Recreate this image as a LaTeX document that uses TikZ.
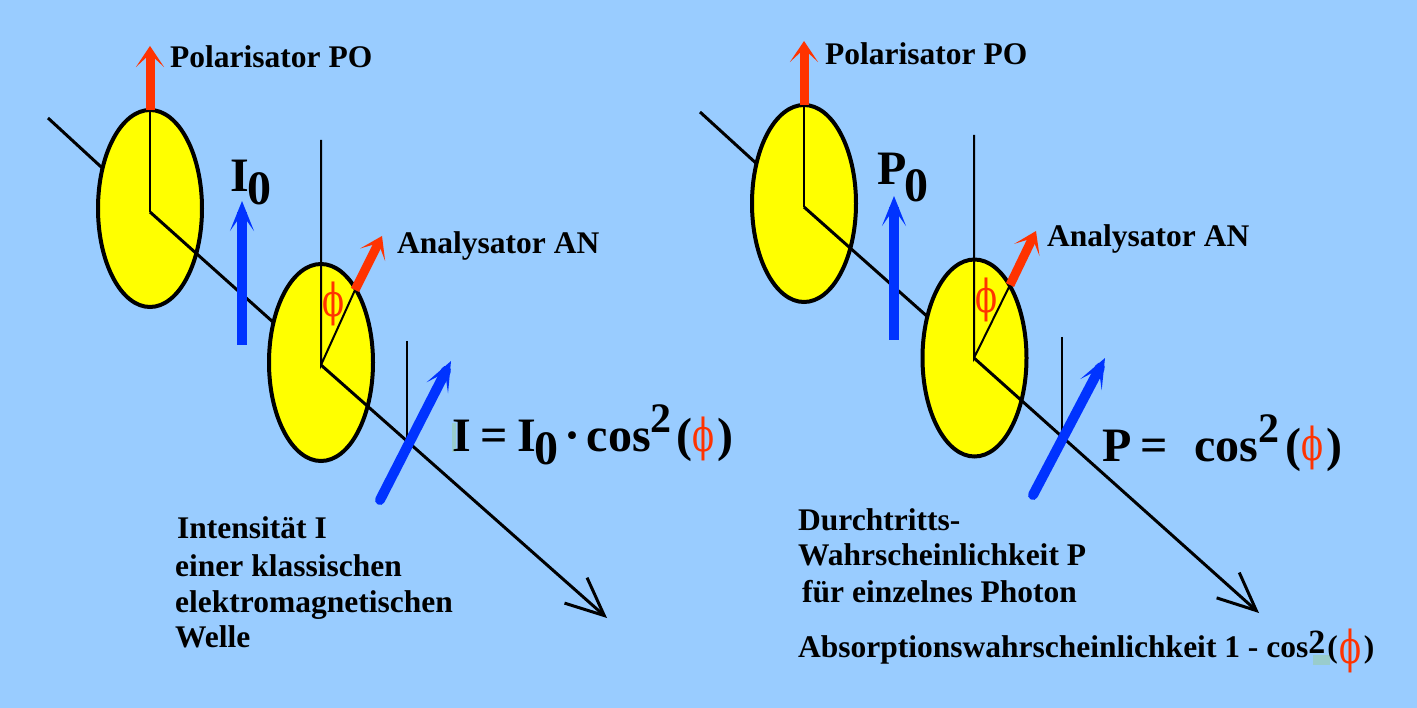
\documentclass[tikz,border=0pt]{standalone}
\usepackage{fontspec}
\usepackage{graphicx}
\setmainfont{Liberation Serif}
\newfontfamily\phifont{DejaVu Serif}
\usetikzlibrary{arrows.meta,shapes.geometric}
\definecolor{bg}{HTML}{99CCFF}
\definecolor{polred}{HTML}{FF3300}
\definecolor{polblue}{HTML}{0033FF}
\definecolor{lensyellow}{HTML}{FFFF00}
\definecolor{tealmark}{HTML}{99CCCC}
\newcommand{\myphi}{\textcolor{polred}{\resizebox*{22pt}{44pt}{\mdseries\phifont ϕ}}}
\begin{document}
\begin{tikzpicture}[x=1pt,y=-1pt,
  lens/.style={ellipse, draw=black, line width=4pt, fill=lensyellow, minimum width=104pt, minimum height=197pt, inner sep=0pt},
  axisline/.style={line width=3pt},
  thinline/.style={line width=2pt},
  axisarrow/.style={line width=3pt, -{Straight Barb[length=38pt,width=34pt]}},
  redarrow/.style={draw=polred, line width=9pt, -{Stealth[length=21pt,width=28pt,inset=13pt]}},
  bluearrow/.style={draw=polblue, line width=10pt, -{Stealth[length=30pt,width=24pt,inset=17pt]}},
  lbl/.style={font=\bfseries\fontsize{31.5}{36}\selectfont, inner sep=0pt, anchor=base west},
  big/.style={font=\bfseries\fontsize{48}{48}\selectfont, inner sep=0pt, anchor=base west},
  philbl/.style={inner sep=0pt, anchor=center}]
\useasboundingbox (0,0) rectangle (1417,708);
\fill[bg] (0,0) rectangle (1417,708);
% ---------------- left panel ----------------
\coordinate (a1) at (48,118);
\coordinate (c1) at (150,212);
\coordinate (c2) at (321,365);
\coordinate (t1) at (607,618);
\coordinate (v1top) at (150,110);
\coordinate (r1tip) at (150,46);
\coordinate (v2top) at (321,140);
\coordinate (an1p) at (355,290);
\coordinate (an1tip) at (382,236);
\coordinate (v3top) at (407,341);
\coordinate (v3bot) at (407,443);
\coordinate (b1s) at (242,345);
\coordinate (b1e) at (242,201);
\coordinate (b2s) at (380,500);
\coordinate (b2e) at (451,361);
\draw[axisline] (a1) -- (c1);
\node[lens] (e1) at (150,208.5) {};
\draw[axisline] (c1) -- (c2);
\node[lens] (e2) at (321,362.5) {};
\draw[thinline] (v1top) -- (c1);
\draw[redarrow] (v1top) -- (r1tip);
\draw[thinline] (v2top) -- (c2) -- (an1p);
\draw[redarrow] (an1p) -- (an1tip);
\draw[axisarrow] (c2) -- (t1);
\draw[thinline] (v3top) -- (v3bot);
\draw[bluearrow] (b1s) -- (b1e);
\draw[bluearrow, line cap=round] (b2s) -- (b2e);
\node[philbl] (phi1) at (333,304) {\myphi};
\node[lbl] (po1) at (170,68) {Polarisator PO};
\node[lbl] (an1) at (397,254) {Analysator AN};
\node[big] (i0) at (230,192) {I\kern-1pt\raisebox{-13pt}{0}};
\fill[tealmark] (452,423) rectangle (456,452);
\node[big] (f1) at (452,452) {I\kern10pt=\kern9pt I\kern-1pt\raisebox{-13pt}{0}\kern6pt·\kern6pt cos\raisebox{19pt}{\fontsize{42}{42}\selectfont 2}\kern5pt(\myphi\kern3pt)};
\node[lbl] (l1) at (177,538) {Intensität I};
\node[lbl] (l2) at (175,576) {einer klassischen};
\node[lbl] (l3) at (175,612) {elektromagnetischen};
\node[lbl] (l4) at (175,647) {Welle};
% ---------------- right panel ----------------
\coordinate (a2) at (700,112);
\coordinate (c3) at (804,207);
\coordinate (c4) at (974,358);
\coordinate (t2) at (1259,613);
\coordinate (v4top) at (804,105);
\coordinate (r2tip) at (804,41);
\coordinate (v5top) at (974,135);
\coordinate (an2p) at (1010,285);
\coordinate (an2tip) at (1036,231);
\coordinate (v6top) at (1062,337);
\coordinate (v6bot) at (1062,440);
\coordinate (b3s) at (894,340);
\coordinate (b3e) at (894,196);
\coordinate (b4s) at (1033,495);
\coordinate (b4e) at (1105,358);
\draw[axisline] (a2) -- (c3);
\node[lens] (e3) at (804,203.5) {};
\draw[axisline] (c3) -- (c4);
\node[lens] (e4) at (974.5,358) {};
\draw[thinline] (v4top) -- (c3);
\draw[redarrow] (v4top) -- (r2tip);
\draw[thinline] (v5top) -- (c4) -- (an2p);
\draw[redarrow] (an2p) -- (an2tip);
\draw[axisarrow] (c4) -- (t2);
\draw[thinline] (v6top) -- (v6bot);
\draw[bluearrow] (b3s) -- (b3e);
\draw[bluearrow, line cap=round] (b4s) -- (b4e);
\node[philbl] (phi2) at (986,300) {\myphi};
\node[lbl] (po2) at (825,65) {Polarisator PO};
\node[lbl] (an2) at (1047,247) {Analysator AN};
\node[big] (p0) at (877,185) {P\kern-2pt\raisebox{-17pt}{0}};
\node[big] (f2) at (1102,461) {P\kern9.5pt=\kern26pt cos\raisebox{19pt}{\fontsize{42}{42}\selectfont 2}\kern6pt(\myphi\kern3pt)};
\node[lbl] (d1) at (798,530) {Durchtritts-};
\node[lbl] (d2) at (798,565) {Wahrscheinlichkeit P};
\node[lbl] (d3) at (802,602) {für einzelnes Photon};
\fill[tealmark] (1313,655) rectangle (1330,665);
\node[lbl] (d4) at (798,657) {Absorptionswahrscheinlichkeit 1 - cos\raisebox{4pt}{\fontsize{34}{34}\selectfont 2}\kern2pt(\kern2pt\raisebox{-6pt}{\myphi}\kern2pt)};
\end{tikzpicture}
\end{document}
